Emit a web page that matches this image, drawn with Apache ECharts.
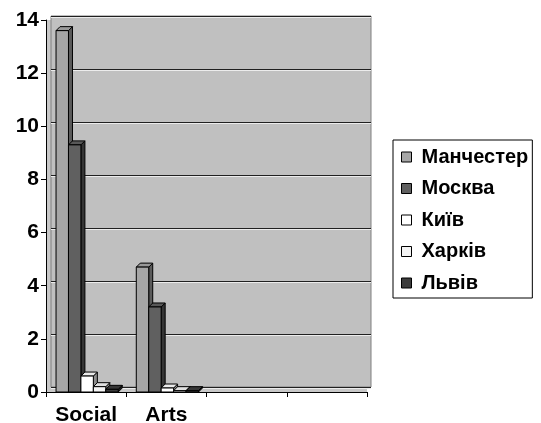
<!DOCTYPE html>
<html><head><meta charset="utf-8">
<script src="https://cdn.jsdelivr.net/npm/echarts@6/dist/echarts.min.js"></script>
<style>html,body{margin:0;padding:0;background:#fff}#c{width:541px;height:423px}</style>
</head><body><div id="c"></div>
<script>
var categories = ['Social', 'Arts', '', ''];
var seriesNames = ['Манчестер', 'Москва', 'Київ', 'Харків', 'Львів'];
var manchester = [13.6, 4.7];
var moskva = [9.3, 3.2];
var kyiv = [0.6, 0.15];
var kharkiv = [0.2, 0.05];
var lviv = [0.1, 0.05];
var yTicks = [0, 2, 4, 6, 8, 10, 12, 14];

var values = [manchester, moskva, kyiv, kharkiv, lviv];
var colors = ['#a6a6a6', '#606060', '#ffffff', '#f4f4f4', '#3c3c3c'];
var FONT = 'Liberation Sans, Arial, sans-serif';

function shade(hex, f) {
  var r = parseInt(hex.substr(1, 2), 16), g = parseInt(hex.substr(3, 2), 16), b = parseInt(hex.substr(5, 2), 16);
  return 'rgb(' + Math.round(r * f) + ',' + Math.round(g * f) + ',' + Math.round(b * f) + ')';
}

function makeRender(si) {
  return function (params, api) {
    var cat = api.value(0), v = api.value(1);
    var p0 = api.coord([cat, 0]);
    var p1 = api.coord([cat, v]);
    var band = api.size([1, 0])[0];
    var bw = band * 0.155;
    var x = p0[0] - band / 2 + band * 0.125 + si * bw;
    var d = 4;
    var c = colors[si];
    var yb = p0[1], yt = p1[1];
    var st = {stroke: '#000', lineWidth: 1};
    return {
      type: 'group',
      children: [
        {type: 'polygon', shape: {points: [[x + bw, yt], [x + bw + d, yt - d], [x + bw + d, yb - d], [x + bw, yb]]},
          style: Object.assign({fill: shade(c, 0.55)}, st)},
        {type: 'polygon', shape: {points: [[x, yt], [x + d, yt - d], [x + bw + d, yt - d], [x + bw, yt]]},
          style: Object.assign({fill: shade(c, 0.92)}, st)},
        {type: 'rect', shape: {x: x, y: yt, width: bw, height: yb - yt},
          style: Object.assign({fill: c}, st)}
      ]
    };
  };
}

var series = seriesNames.map(function (name, si) {
  return {
    name: name,
    type: 'custom',
    xAxisIndex: 0, yAxisIndex: 0,
    itemStyle: {color: colors[si]},
    renderItem: makeRender(si),
    encode: {x: 0, y: 1},
    data: values[si].map(function (v, i) { return [i, v]; }),
    z: 5
  };
});

var chart = echarts.init(document.getElementById('c'), null, {renderer: 'canvas'});
chart.setOption({
  animation: false,
  backgroundColor: '#fff',
  grid: [
    {left: 46, top: 20, right: 174, bottom: 31, show: true, backgroundColor: '#c8c8c8', borderWidth: 0, containLabel: false, outerBoundsMode: 'none'},
    {left: 51, top: 16, right: 170, bottom: 36, show: true, backgroundColor: '#c0c0c0', borderColor: '#808080', borderWidth: 1, outerBoundsMode: 'none'},
    {left: 51, top: 17, right: 170, bottom: 35, show: false, outerBoundsMode: 'none'}
  ],
  legend: {
    orient: 'vertical', left: 393, top: 140,
    padding: [7, 4, 5, 8],
    itemGap: 11.5,
    itemWidth: 10, itemHeight: 10,
    icon: 'rect',
    borderColor: '#000', borderWidth: 1,
    itemStyle: {borderColor: '#000', borderWidth: 1},
    textStyle: {fontFamily: FONT, fontWeight: 'bold', fontSize: 20, color: '#000', padding: [0, 0, 0, 5], lineHeight: 20},
    data: seriesNames
  },
  xAxis: [
    {type: 'category', gridIndex: 0, data: categories, boundaryGap: true,
      axisLine: {lineStyle: {color: '#000', width: 1}},
      axisTick: {show: true, interval: 0, length: 5, lineStyle: {color: '#000'}},
      axisLabel: {interval: 0, fontFamily: FONT, fontWeight: 'bold', fontSize: 21, color: '#000', margin: 13},
      splitLine: {show: false}},
    {type: 'category', gridIndex: 1, data: categories, show: false},
    {type: 'category', gridIndex: 2, data: categories, show: false}
  ],
  yAxis: [
    {type: 'value', gridIndex: 0, min: 0, max: 14, interval: 2,
      axisLine: {show: true, lineStyle: {color: '#000', width: 1}},
      axisTick: {show: true, length: 5, lineStyle: {color: '#000'}},
      axisLabel: {fontFamily: FONT, fontWeight: 'bold', fontSize: 21, color: '#000', margin: 7,
        formatter: function (v) { return yTicks.indexOf(v) >= 0 ? String(v) : ''; }},
      splitLine: {show: false}},
    {type: 'value', gridIndex: 1, min: 0, max: 14, interval: 2,
      axisLine: {show: false}, axisTick: {show: false}, axisLabel: {show: false},
      splitLine: {show: true, lineStyle: {color: '#202020', width: 1}}},
    {type: 'value', gridIndex: 2, min: 0, max: 14, interval: 2,
      axisLine: {show: false}, axisTick: {show: false}, axisLabel: {show: false},
      splitLine: {show: true, lineStyle: {color: '#ececec', width: 1}}}
  ],
  series: series
});
</script>
</body></html>
